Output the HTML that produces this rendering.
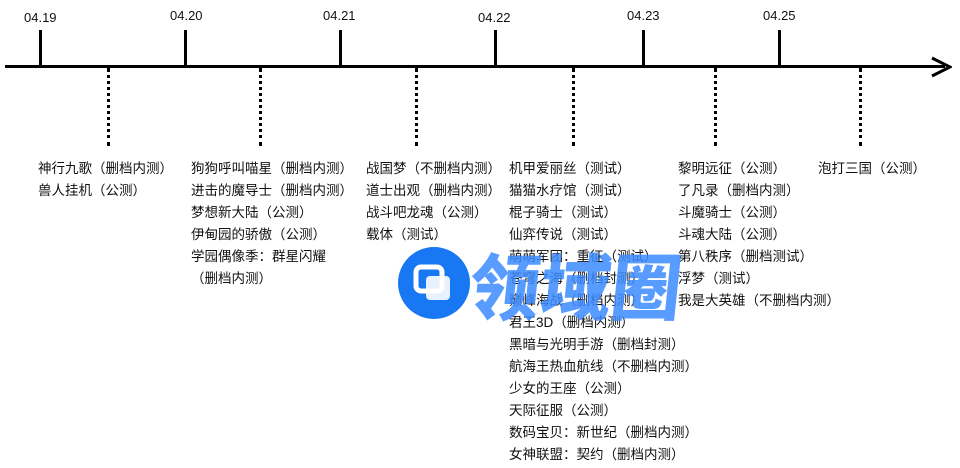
<!DOCTYPE html>
<html><head><meta charset="utf-8"><style>
body{margin:0;width:960px;height:468px;background:#fff;position:relative;overflow:hidden;font-family:"Liberation Sans","Noto Sans CJK SC",sans-serif;color:#111}
.d{position:absolute;font-size:13px;top:0}
.col{position:absolute;top:158px;font-size:13.5px;line-height:22px;white-space:nowrap}
.t{position:absolute;top:30px;width:3px;height:37px;background:#000}
.dot{position:absolute;top:68px;height:78px;border-left:3px dotted #000}
</style></head><body>
<div style="position:absolute;left:5px;top:65px;width:940px;height:3px;background:#000"></div>
<svg style="position:absolute;left:930px;top:56px" width="22" height="22"><path d="M2 2 L20 11 L2 20" fill="none" stroke="#000" stroke-width="3"/></svg>
<div class="d" style="left:24px;top:10px">04.19</div>
<div class="d" style="left:170px;top:8px">04.20</div>
<div class="d" style="left:323px;top:8px">04.21</div>
<div class="d" style="left:478px;top:10px">04.22</div>
<div class="d" style="left:627px;top:8px">04.23</div>
<div class="d" style="left:763px;top:8px">04.25</div>
<div class="t" style="left:39px"></div><div class="t" style="left:184px"></div><div class="t" style="left:339px"></div><div class="t" style="left:494px"></div><div class="t" style="left:642px"></div><div class="t" style="left:778px"></div>
<div class="dot" style="left:107px"></div><div class="dot" style="left:259px"></div><div class="dot" style="left:415px"></div><div class="dot" style="left:572px"></div><div class="dot" style="left:714px"></div><div class="dot" style="left:859px"></div>
<div class="col" style="left:38px">神行九歌（删档内测）<br>兽人挂机（公测）</div>
<div class="col" style="left:191px">狗狗呼叫喵星（删档内测）<br>进击的魔导士（删档内测）<br>梦想新大陆（公测）<br>伊甸园的骄傲（公测）<br>学园偶像季：群星闪耀<br>（删档内测）</div>
<div class="col" style="left:366px">战国梦（不删档内测）<br>道士出观（删档内测）<br>战斗吧龙魂（公测）<br>载体（测试）</div>
<div class="col" style="left:509px">机甲爱丽丝（测试）<br>猫猫水疗馆（测试）<br>棍子骑士（测试）<br>仙弈传说（测试）<br>萌萌军团：重征（测试）<br>苍穹之海（删档封测）<br>巅峰海战（删档内测）<br>君王3D（删档内测）<br>黑暗与光明手游（删档封测）<br>航海王热血航线（不删档内测）<br>少女的王座（公测）<br>天际征服（公测）<br>数码宝贝：新世纪（删档内测）<br>女神联盟：契约（删档内测）</div>
<div class="col" style="left:678px">黎明远征（公测）<br>了凡录（删档内测）<br>斗魔骑士（公测）<br>斗魂大陆（公测）<br>第八秩序（删档测试）<br>浮梦（测试）<br>我是大英雄（不删档内测）</div>
<div class="col" style="left:818px">泡打三国（公测）</div>
<svg style="position:absolute;left:396px;top:246px" width="300" height="76">
<circle cx="38" cy="37" r="36" fill="#1877f2"/>
<rect x="20" y="21" width="26" height="24" rx="5" fill="none" stroke="#fff" stroke-width="5"/>
<rect x="30" y="30" width="24" height="24" rx="4" fill="#fff" opacity=".9"/>
<text x="74" y="68" font-family="Noto Sans CJK SC,sans-serif" font-weight="900" font-size="72" fill="#3d8bff" opacity=".85" transform="skewX(-6)" transform-origin="150 40" textLength="212" lengthAdjust="spacingAndGlyphs">领域圈</text>
</svg>
</body></html>
